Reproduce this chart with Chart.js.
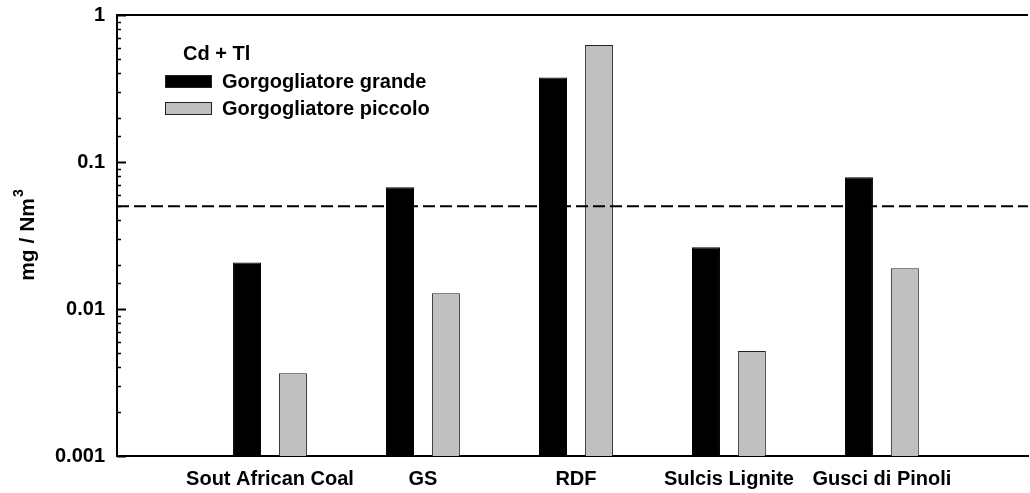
<!DOCTYPE html>
<html>
<head>
<meta charset="utf-8">
<script src="https://cdn.jsdelivr.net/npm/chart.js@4.4.1/dist/chart.umd.min.js"></script>
<style>
  html, body { margin: 0; padding: 0; background: #fff; }
  #wrap { width: 1030px; height: 493px; }
</style>
</head>
<body>
<div id="wrap"><canvas id="chart"></canvas></div>
<script>
const categories = ["Sout African Coal", "GS", "RDF", "Sulcis Lignite", "Gusci di Pinoli"];
const grandeValues = [0.0207, 0.0673, 0.375, 0.0263, 0.0787];
const piccoloValues = [0.00365, 0.0128, 0.625, 0.00518, 0.0189];
const seriesNames = ["Gorgogliatore grande", "Gorgogliatore piccolo"];
const legendTitle = "Cd + Tl";
const limitValue = 0.05;
const yTickLabels = ["0.001", "0.01", "0.1", "1"];

const FONT = "'Liberation Sans', Arial, Helvetica, sans-serif";

function isDecade(v) {
  const l = Math.log10(v);
  return Math.abs(l - Math.round(l)) < 1e-6;
}

// frame: top line, inward tick marks on the log axis, limit line, axis title
const framePlugin = {
  id: "frame",
  afterDatasetsDraw(chart) {
    const { ctx, chartArea: a, scales } = chart;
    ctx.save();
    ctx.strokeStyle = "#000";
    ctx.lineWidth = 2;
    ctx.beginPath();
    ctx.moveTo(a.left - 1, a.top);
    ctx.lineTo(a.right, a.top);
    ctx.stroke();

    scales.y.ticks.forEach(t => {
      const y = Math.round(scales.y.getPixelForValue(t.value)) + 0.5;
      const len = isDecade(t.value) ? 9 : 4;
      ctx.lineWidth = isDecade(t.value) ? 2 : 1.5;
      ctx.beginPath();
      ctx.moveTo(a.left, y);
      ctx.lineTo(a.left + len, y);
      ctx.stroke();
    });

    const ly = scales.y.getPixelForValue(limitValue);
    ctx.lineWidth = 2;
    ctx.setLineDash([12, 5]);
    ctx.beginPath();
    ctx.moveTo(a.left, ly);
    ctx.lineTo(a.right, ly);
    ctx.stroke();
    ctx.setLineDash([]);

    // y axis title with superscript
    const main = "mg / Nm";
    const sup = "3";
    ctx.translate(28, (a.top + a.bottom) / 2);
    ctx.rotate(-Math.PI / 2);
    ctx.fillStyle = "#000";
    ctx.textBaseline = "middle";
    ctx.font = "bold 21px " + FONT;
    const w1 = ctx.measureText(main).width;
    ctx.font = "bold 14px " + FONT;
    const w2 = ctx.measureText(sup).width;
    const x0 = -(w1 + w2) / 2;
    ctx.font = "bold 21px " + FONT;
    ctx.textAlign = "left";
    ctx.fillText(main, x0, 0);
    ctx.font = "bold 14px " + FONT;
    ctx.fillText(sup, x0 + w1 + 1, -9);
    ctx.restore();
  }
};

// boxed legend in the upper left corner
const legendPlugin = {
  id: "boxLegend",
  afterDraw(chart) {
    const { ctx } = chart;
    ctx.save();
    ctx.font = "bold 20px " + FONT;
    ctx.fillStyle = "#000";
    ctx.textBaseline = "middle";
    ctx.textAlign = "left";
    ctx.fillText(legendTitle, 183, 54);
    chart.data.datasets.forEach((ds, i) => {
      const y = 75 + i * 27;
      ctx.fillStyle = ds.backgroundColor;
      ctx.fillRect(165, y, 47, 13);
      ctx.strokeStyle = "#222";
      ctx.lineWidth = 1;
      ctx.strokeRect(165.5, y + 0.5, 46, 12);
      ctx.fillStyle = "#000";
      ctx.fillText(ds.label, 222, y + 7);
    });
    ctx.restore();
  }
};

new Chart(document.getElementById("chart"), {
  type: "bar",
  data: {
    datasets: [
      {
        label: seriesNames[0],
        data: grandeValues.map((v, i) => ({ x: i + 1, y: v })),
        backgroundColor: "#000000",
        borderColor: "#000000",
        borderWidth: 1,
        borderSkipped: "bottom"
      },
      {
        label: seriesNames[1],
        data: piccoloValues.map((v, i) => ({ x: i + 1, y: v })),
        backgroundColor: "#c0c0c0",
        borderColor: "#222222",
        borderWidth: 1,
        borderSkipped: "bottom"
      }
    ]
  },
  plugins: [framePlugin, legendPlugin],
  options: {
    responsive: true,
    maintainAspectRatio: false,
    animation: false,
    categoryPercentage: 0.6,
    barPercentage: 0.61,
    layout: { padding: { left: 0, right: 2, top: 15, bottom: 0 } },
    plugins: {
      legend: { display: false },
      tooltip: { enabled: false }
    },
    scales: {
      x: {
        type: "linear",
        offset: false,
        min: 0,
        max: 5.955,
        grid: { display: false, drawTicks: false },
        border: { display: true, color: "#000", width: 2 },
        afterBuildTicks: s => { s.ticks = categories.map((c, i) => ({ value: i + 1 })); },
        afterFit: s => { s.height = 37; s.paddingLeft = 0; s.paddingRight = 0; },
        ticks: {
          autoSkip: false,
          maxRotation: 0,
          padding: 11,
          color: "#000",
          font: { family: FONT, size: 20, weight: "bold" },
          callback: v => categories[v - 1] || ""
        }
      },
      y: {
        type: "logarithmic",
        min: 0.001,
        max: 1,
        grid: { display: false, drawTicks: false },
        border: { display: true, color: "#000", width: 2 },
        afterFit: s => { s.width = 117; s.paddingTop = 0; s.paddingBottom = 0; },
        ticks: {
          autoSkip: false,
          padding: 12,
          color: "#000",
          font: { family: FONT, size: 20, weight: "bold" },
          callback: v => {
            if (!isDecade(v)) return "";
            const k = Math.round(Math.log10(v)) + 3;
            return yTickLabels[k];
          }
        }
      }
    }
  }
});
</script>
</body>
</html>
